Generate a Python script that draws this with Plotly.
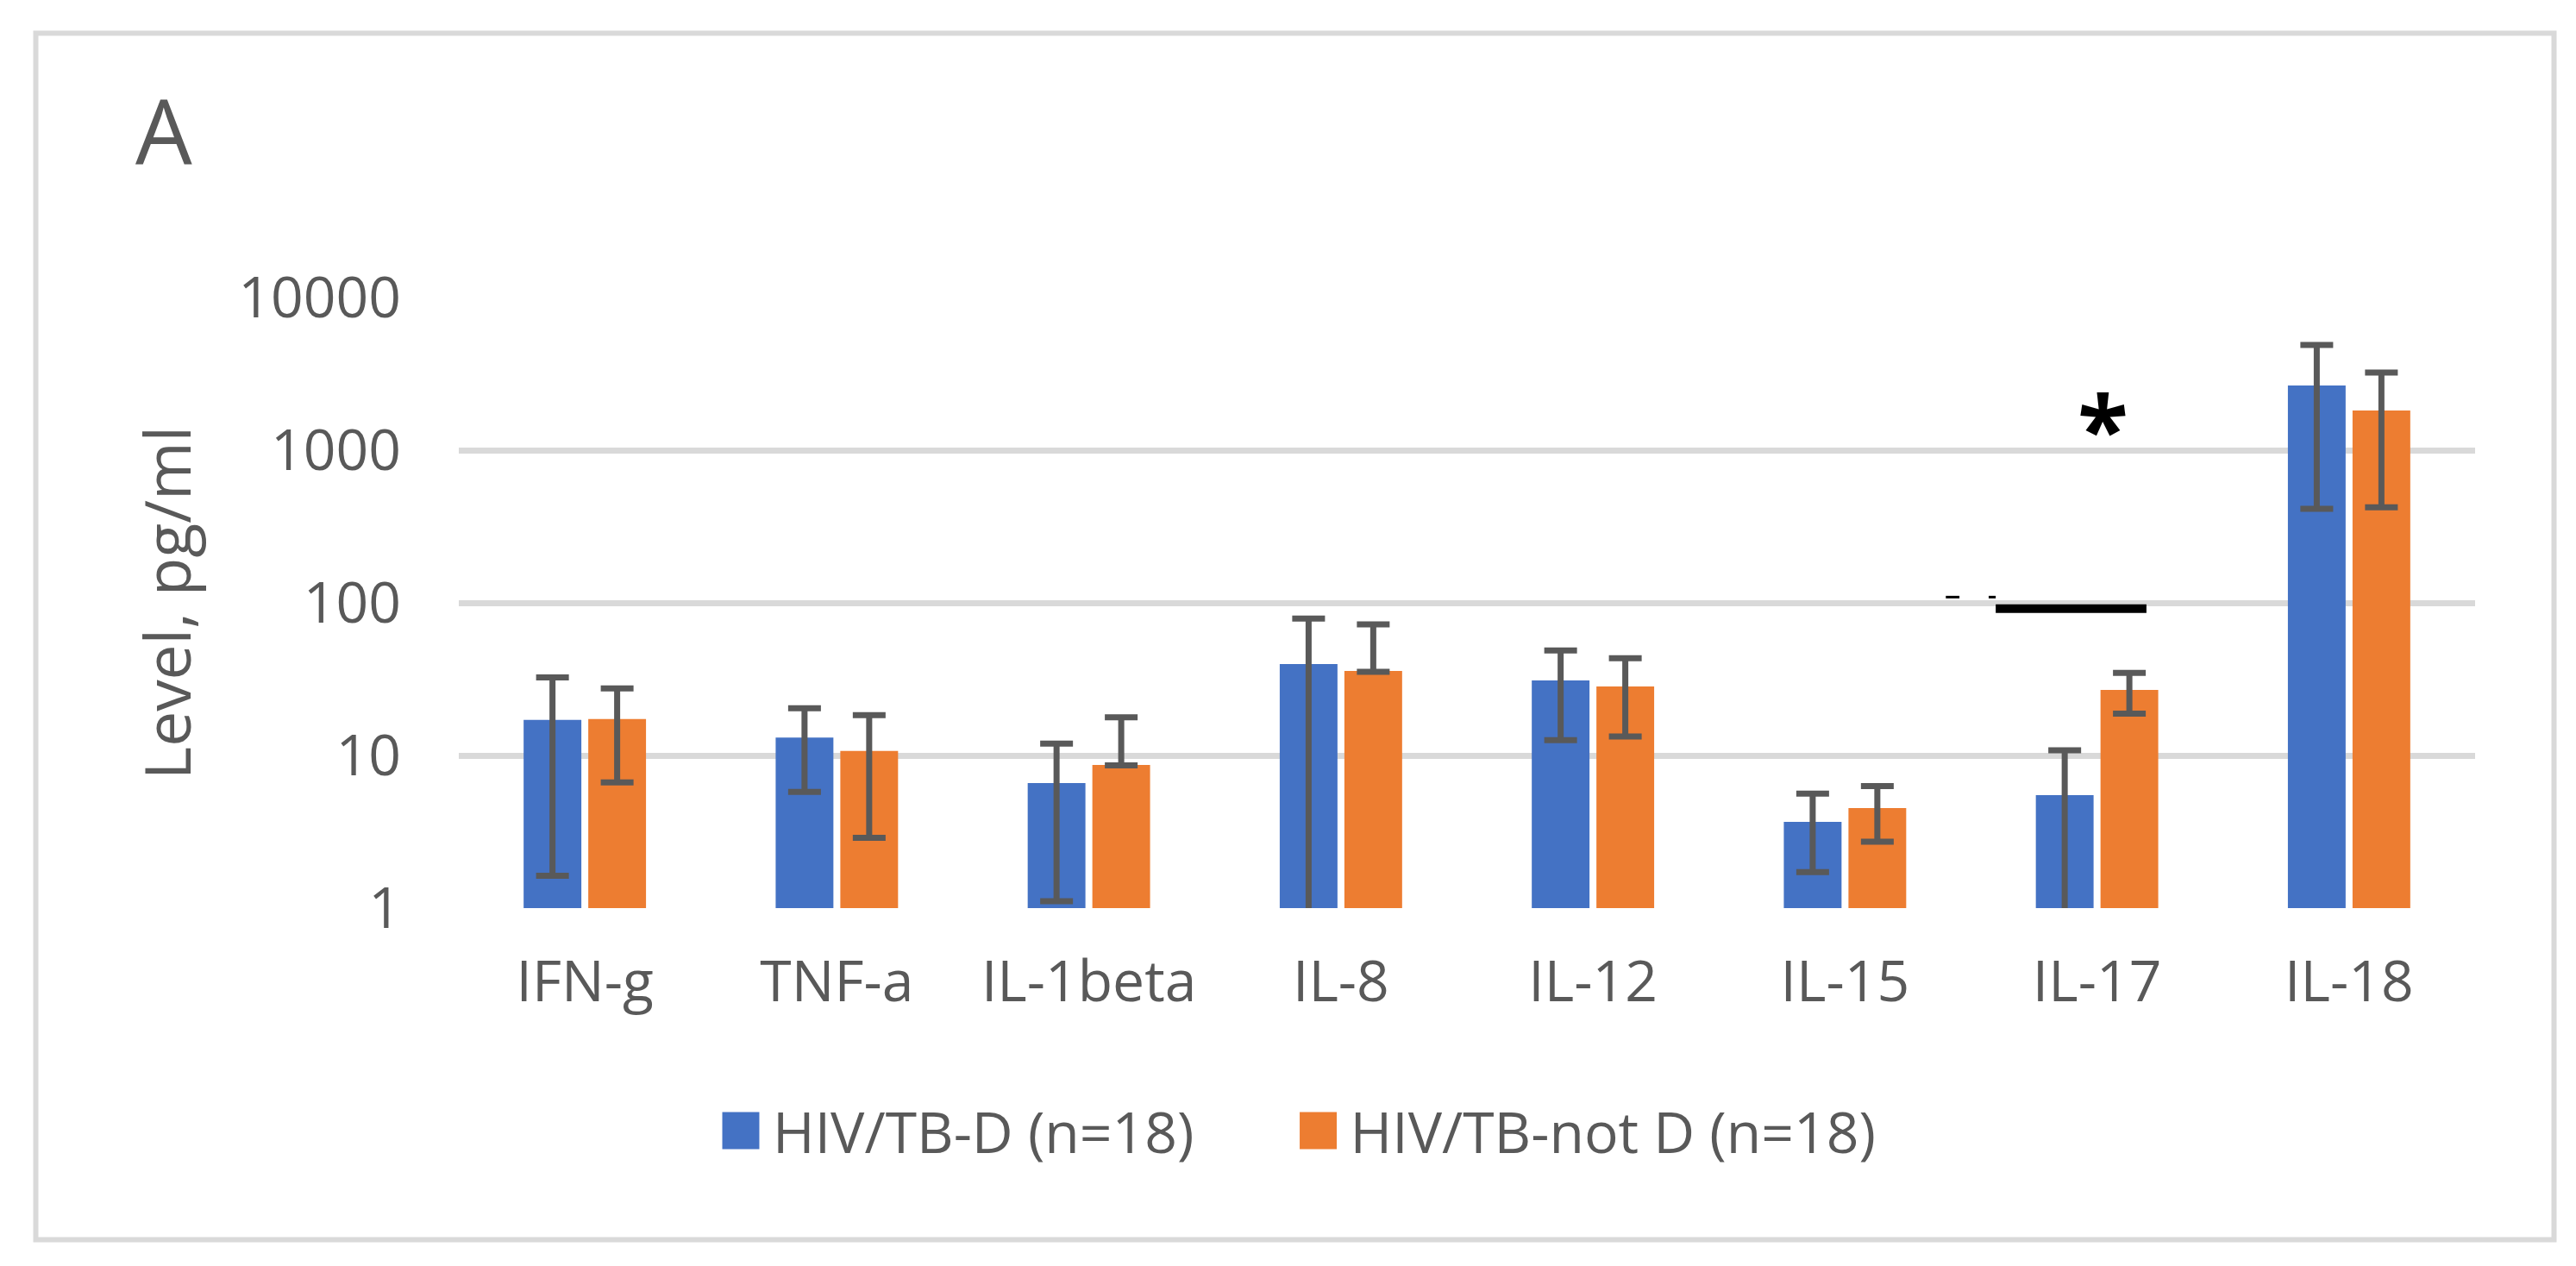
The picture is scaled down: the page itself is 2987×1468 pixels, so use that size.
import plotly.graph_objects as go
import numpy as np

# ---------------- data ----------------
categories = ["IFN-g", "TNF-a", "IL-1beta", "IL-8", "IL-12", "IL-15", "IL-17", "IL-18"]

series_names = ["HIV/TB-D (n=18)", "HIV/TB-not D (n=18)"]

d_values = [17.1, 13.1, 6.6, 39.7, 31.0, 3.67, 5.5, 2655]
d_upper = [32.5, 20.4, 11.95, 78.8, 48.7, 5.62, 10.8, 4888]
d_lower = [1.63, 5.77, 1.11, 0.5, 12.6, 1.72, 0.5, 413]

nd_values = [17.3, 10.7, 8.67, 35.8, 28.3, 4.52, 26.9, 1820]
nd_upper = [27.5, 18.4, 17.8, 72.2, 43.3, 6.31, 34.7, 3221]
nd_lower = [6.65, 2.89, 8.6, 35.3, 13.3, 2.72, 18.8, 423]

y_tickvals = [1, 10, 100, 1000, 10000]
y_ticktext = ["1", "10", "100", "1000", "10000"]

y_title = "Level, pg/ml"
panel_label = "A"
sig_text = "*"

# ---------------- layout constants ----------------
W, H = 2987, 1468
ML, MR, MT, MB = 524, 125, 337, 423
PW = W - ML - MR
PH = H - MT - MB

BLUE = "#4472C4"
ORANGE = "#ED7D31"
TEXT = "#595959"
GRID = "#D9D9D9"
FONT = "Open Sans"


def px_x(p):
    return (p - ML) / PW


def px_y(p):
    return (H - MB - p) / PH


fig = go.Figure()

for name, vals, up, lo, col in [
    (series_names[0], d_values, d_upper, d_lower, BLUE),
    (series_names[1], nd_values, nd_upper, nd_lower, ORANGE),
]:
    vals_a = np.array(vals, dtype=float)
    fig.add_trace(go.Bar(
        name=name,
        x=categories,
        y=vals_a,
        marker=dict(color=col, line=dict(width=0)),
        error_y=dict(
            type="data", symmetric=False,
            array=np.array(up) - vals_a,
            arrayminus=vals_a - np.array(lo),
            color=TEXT, thickness=7, width=19,
        ),
    ))

# significance marks around IL-17
sig_idx = categories.index("IL-17")
fig.add_shape(type="line", xref="x", yref="y",
              x0=sig_idx - 0.402, x1=sig_idx + 0.196, y0=91.5, y1=91.5,
              line=dict(color="black", width=10))
fig.add_shape(type="line", xref="x", yref="y",
              x0=sig_idx - 0.600, x1=sig_idx - 0.546, y0=109, y1=109,
              line=dict(color="black", width=3))
fig.add_shape(type="line", xref="x", yref="y",
              x0=sig_idx - 0.430, x1=sig_idx - 0.402, y0=109, y1=109,
              line=dict(color="black", width=3))

fig.add_annotation(x=sig_idx + 0.025, y=np.log10(1524), xref="x", yref="y",
                   text=sig_text, showarrow=False, yshift=-6,
                   font=dict(family=FONT, size=108, color="black", weight="bold"))

# panel label
fig.add_annotation(x=px_x(147), y=px_y(143), xref="paper", yref="paper",
                   xanchor="left", yanchor="middle", text=panel_label, showarrow=False,
                   font=dict(family=FONT, size=104, color=TEXT))

# outer border
fig.add_shape(type="rect", xref="paper", yref="paper",
              x0=px_x(33.5), x1=px_x(2953.5), y0=px_y(1429.5), y1=px_y(30.5),
              line=dict(color=GRID, width=6), layer="below")

fig.update_layout(
    width=W, height=H,
    margin=dict(l=ML, r=MR, t=MT, b=MB, pad=0),
    paper_bgcolor="white", plot_bgcolor="white",
    font=dict(family=FONT, size=66, color=TEXT),
    barmode="group", bargap=0.487, bargroupgap=0.107,
    showlegend=True,
    legend=dict(
        orientation="h", xref="container", yref="container",
        x=712 / W, xanchor="left", y=(H - 1303) / H, yanchor="middle",
        font=dict(family=FONT, size=66, color=TEXT),
        itemwidth=166, traceorder="normal",
    ),
    xaxis=dict(
        showgrid=False, showline=False, zeroline=False, ticks="",
        tickfont=dict(family=FONT, size=66, color=TEXT),
        ticklabelstandoff=41,
    ),
    yaxis=dict(
        type="log", range=[0, 4],
        tickvals=y_tickvals, ticktext=y_ticktext,
        showgrid=True, gridcolor=GRID, gridwidth=7,
        showline=False, zeroline=False, ticks="",
        tickfont=dict(family=FONT, size=66, color=TEXT),
        ticklabelstandoff=66,
        title=dict(text=y_title, font=dict(family=FONT, size=73, color=TEXT), standoff=30),
    ),
)

# enlarge legend swatches to the reference's square size and put them just left of the text
post = """
var gd = document.getElementById('{plot_id}');
function fixLegend(){
  gd.querySelectorAll('.legend g.traces').forEach(function(item){
    var p = item.querySelector('.legendpoints path');
    var t = item.querySelector('text.legendtext');
    if(!p || !t) return;
    if(p.dataset.orig === undefined) p.dataset.orig = p.getAttribute('transform') || '';
    p.setAttribute('transform', p.dataset.orig);
    var pr = p.getBoundingClientRect();
    var tr = t.getBoundingClientRect();
    var pcx = (pr.left + pr.right) / 2;
    var desired = tr.left - 15.5 - 21.5;
    var dx = desired - pcx;
    p.setAttribute('transform', 'translate(' + dx + ',0) ' + p.dataset.orig + ' scale(3.58)');
  });
}
fixLegend();
gd.on('plotly_afterplot', fixLegend);
"""

fig.write_html("out.html", post_script=post)
